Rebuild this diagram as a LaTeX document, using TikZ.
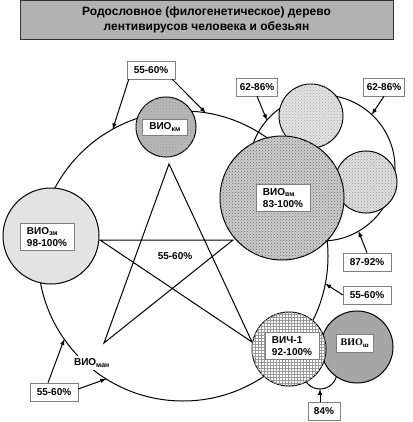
\documentclass[tikz,border=0pt]{standalone}
\usepackage{fontspec}
\setmainfont{Liberation Sans}
\newfontfamily\timesb{Liberation Serif}
\usetikzlibrary{patterns}

\begin{document}
\begin{tikzpicture}[x=1pt, y=-1pt, line width=1pt, >=latex,
  virus/.style = {draw, circle, inner sep=0pt, outer sep=0pt},
  tag/.style = {draw=gray, thin, fill=white, font=\bfseries\fontsize{10}{12}\selectfont, minimum height=18pt, minimum width=48pt, inner sep=1pt},
  inbox/.style = {tag, align=left, minimum width=0pt, minimum height=0pt, inner xsep=7pt, inner ysep=4pt}]
  \useasboundingbox (0,0) rectangle (412,422);
  % title
  \node[draw=gray!40!black, thin, fill=gray!60, minimum width=373pt, minimum height=39pt, align=center,
        font=\bfseries\fontsize{12}{15}\selectfont] (title) at (206.5,19.5)
        {Родословное (филогенетическое) дерево\\лентивирусов человека и обезьян};
  % big ring, ring round the monkey group, small loop
  \node[virus, minimum size=290pt] (ring) at (183,256) {};
  \node[virus, minimum size=146pt] (group) at (322,168) {};
  \node[virus, minimum size=34pt] (loop) at (320,372) {};
  % star
  \coordinate (s1) at (169,164);
  \coordinate (s2) at (100,240);
  \coordinate (s3) at (233,240);
  \coordinate (s4) at (104,343);
  \coordinate (s5) at (252,342);
  \draw (s1) -- (s4) -- (s3) -- (s2) -- (s5) -- cycle;
  % viruses
  \node[virus, minimum size=60pt, fill=gray!55, postaction={pattern=crosshatch dots, pattern color=gray!80}] (km) at (166,127) {};
  \node[virus, minimum size=96pt, fill=gray!22] (zm) at (51,236) {};
  \node[virus, minimum size=64pt, fill=gray!22, postaction={pattern=crosshatch dots, pattern color=gray!70}] (g1) at (311,116) {};
  \node[virus, minimum size=62pt, fill=gray!25, postaction={pattern=crosshatch dots, pattern color=gray!85}] (g2) at (366,182) {};
  \node[virus, minimum size=124pt, fill=gray!40, postaction={pattern=crosshatch dots, pattern color=gray!85!black}] (vm) at (282,198) {};
  \node[virus, minimum size=72pt, fill=gray!70] (sh) at (357,347) {};
  \node[virus, minimum size=74pt, fill=white, postaction={pattern=grid, pattern color=gray!80}] (hiv) at (289,349) {};
  % names
  \node[inbox] (kmt) at (165,127) {ВИО\textsubscript{км}};
  \node[inbox] (zmt) at (47,237) {ВИО\textsubscript{зм}\\98-100\%};
  \node[inbox] (vmt) at (283,198) {ВИО\textsubscript{вм}\\83-100\%};
  \node[inbox] (hivt) at (292,346) {ВИЧ-1\\92-100\%};
  \node[inbox, inner xsep=4pt, inner ysep=5pt, font=\timesb\bfseries\fontsize{10}{12}\selectfont] (sht) at (355,343) {ВИО\textsubscript{ш}};
  \node[fill=white, inner sep=3pt, font=\bfseries\fontsize{10}{12}\selectfont] (man) at (92,363) {ВИО\textsubscript{ман}};
  \node[font=\bfseries\fontsize{10}{12}\selectfont] (star) at (175,256) {55-60\%};
  % similarity tags
  \node[tag] (t1) at (151,70) {55-60\%};
  \node[tag, minimum width=41pt] (t2) at (257,87) {62-86\%};
  \node[tag, minimum width=41pt] (t3) at (384,87) {62-86\%};
  \node[tag] (t4) at (367,262) {87-92\%};
  \node[tag] (t5) at (367,295) {55-60\%};
  \node[tag, minimum width=32pt] (t6) at (324,411) {84\%};
  \node[tag] (t7) at (54,392) {55-60\%};
  \draw[->] ([xshift=2pt]t1.south west) -- (ring.119);
  \draw[->] ([xshift=-3pt]t1.south east) -- (ring.81);
  \draw[->] (t2.south) -- (group.139);
  \draw[->] (t3.south) -- (group.47);
  \draw[->] (t4.north) -- (group.-60);
  \draw[->] (t5.west) -- (ring.-11);
  \draw[->] ([xshift=-4pt]t6.north) -- (loop.south);
  \draw[->] ([xshift=-6pt]t7.north) -- (ring.215);
  \draw[->] ([yshift=3pt]t7.east) -- (ring.238);
\end{tikzpicture}
\end{document}
